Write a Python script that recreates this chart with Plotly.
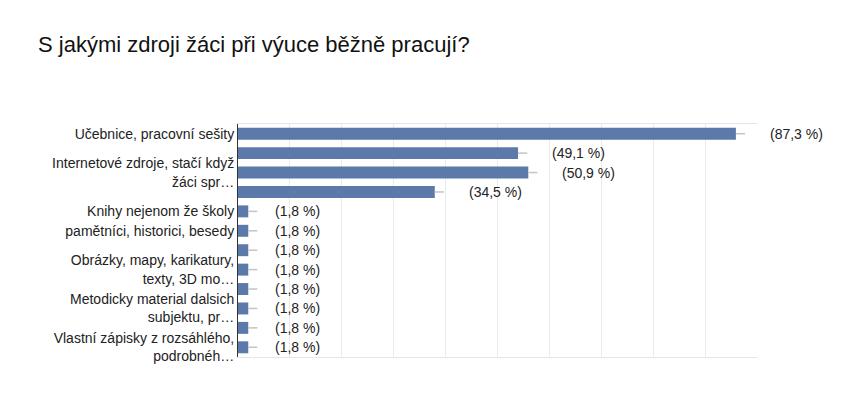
import plotly.graph_objects as go

title = "S jakými zdroji žáci při výuce běžně pracují?"
labels = [
    "Učebnice, pracovní sešity",
    "",
    "Internetové zdroje, stačí když<br>žáci spr…",
    "",
    "Knihy nejenom že školy",
    "pamětníci, historici, besedy",
    "",
    "Obrázky, mapy, karikatury,<br>texty, 3D mo…",
    "",
    "Metodicky material dalsich<br>subjektu, pr…",
    "",
    "Vlastní zápisky z rozsáhlého,<br>podrobnéh…",
]
values = [87.3, 49.1, 50.9, 34.5, 1.8, 1.8, 1.8, 1.8, 1.8, 1.8, 1.8, 1.8]
value_text = ["(%s %%)" % str(v).replace(".", ",") for v in values]
positions = list(range(len(values)))

FONT = "Liberation Sans, Arial, sans-serif"
BAR = "#5b79a9"

# page body has an 8px margin; figure sized so it fills the 855x397 window
W, H = 847, 389

fig = go.Figure()
fig.add_trace(go.Bar(
    x=values, y=positions, orientation="h",
    marker=dict(color=BAR, line=dict(width=0)),
    error_x=dict(type="constant", value=1.6, symmetric=False, valueminus=0,
                 color="#c4c4c4", thickness=1.5, width=0),
    hoverinfo="skip",
))

for v, p, t in zip(values, positions, value_text):
    fig.add_annotation(x=v, y=p, text=t, showarrow=False, xanchor="left",
                       xshift=(32 if v > 10 else 25),
                       font=dict(family=FONT, size=14, color="#222"))

fig.update_layout(
    width=W, height=H,
    margin=dict(l=230, r=98, t=116, b=40),
    paper_bgcolor="white", plot_bgcolor="white",
    showlegend=False,
    bargap=0.385,
    title=dict(text=title, x=30 / W, xanchor="left", xref="container",
               y=1 - 36 / H, yanchor="middle", yref="container",
               font=dict(family=FONT, size=22, color="#111")),
    xaxis=dict(range=[0, 91], dtick=9.1, tick0=0, showticklabels=False,
               showgrid=True, gridcolor="#ebebeb", gridwidth=1, zeroline=False,
               showline=True, linecolor="#e6e6e6", mirror=True, ticks=""),
    yaxis=dict(range=[11.5, -0.5], tickvals=positions, ticktext=labels,
               showgrid=False, zeroline=False, showline=True, linecolor="#333",
               linewidth=1, ticks="",
               tickfont=dict(family=FONT, size=14, color="#222")),
)

fig.write_html("out.html")
